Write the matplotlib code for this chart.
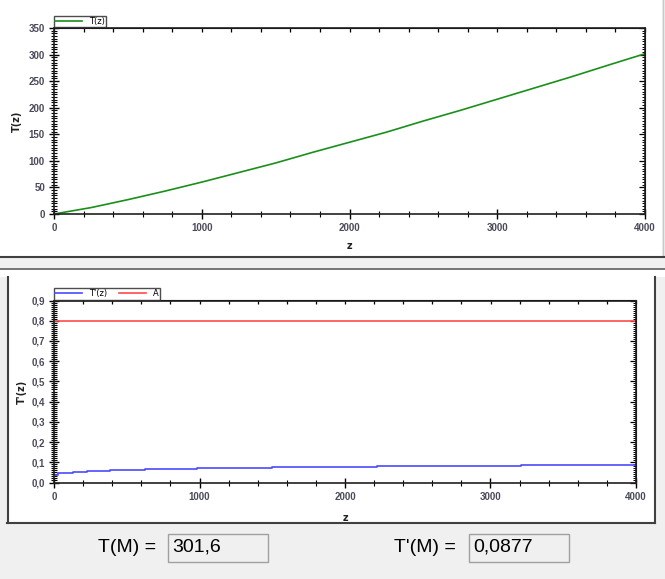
import matplotlib.pyplot as plt
import numpy as np
from matplotlib.patches import Rectangle
from matplotlib.lines import Line2D
from matplotlib.ticker import MultipleLocator

# T(z)
z_top = [0, 250, 500, 750, 1000, 1250, 1500, 1750, 2000, 2250, 2500,
         2750, 3000, 3250, 3500, 3750, 4000]
T_top = [0, 12, 27, 43, 60, 78, 96, 116, 135, 154, 175,
         195, 216, 237, 258, 280, 301.6]

# T'(z) step curve
z_steps = [0, 25, 133, 225, 385, 625, 980, 1500, 2218, 3207, 4000]
dT_steps = [0.035, 0.045, 0.05, 0.055, 0.06, 0.065, 0.07, 0.075, 0.08, 0.0877, 0.0877]
A_z = [0, 4000]
A_val = [0.8, 0.8]

xticks = [0, 1000, 2000, 3000, 4000]
yticks_top = [0, 50, 100, 150, 200, 250, 300, 350]
yticks_bot = [0.0, 0.1, 0.2, 0.3, 0.4, 0.5, 0.6, 0.7, 0.8, 0.9]
yticklabels_bot = ["0,0", "0,1", "0,2", "0,3", "0,4", "0,5", "0,6", "0,7", "0,8", "0,9"]

T_M = "301,6"
dT_M = "0,0877"

W, H = 665, 579
fig = plt.figure(figsize=(W / 100, H / 100), dpi=100)
fig.patch.set_facecolor("#f0f0f0")


def fx(px):
    return px / W


def fy(py):
    return 1 - py / H


def rect(x0, y0, x1, y1, fc, ec="none", lw=0):
    fig.patches.append(Rectangle((fx(x0), fy(y1)), fx(x1) - fx(x0), fy(y0) - fy(y1),
                                 transform=fig.transFigure, facecolor=fc,
                                 edgecolor=ec, linewidth=lw, zorder=-5))


def hline(y, x0, x1, c, lw=1.5):
    fig.lines.append(Line2D([fx(x0), fx(x1)], [fy(y), fy(y)], transform=fig.transFigure,
                            color=c, lw=lw, zorder=-4))


def vline(x, y0, y1, c, lw=1.5):
    fig.lines.append(Line2D([fx(x), fx(x)], [fy(y0), fy(y1)], transform=fig.transFigure,
                            color=c, lw=lw, zorder=-4))


# panel backgrounds
rect(0, 0, 662, 256, "white")
vline(662.5, 0, 256, "#c8c8c8", 1.0)
hline(256.5, 0, 665, "#404040", 1.5)
hline(269, 0, 665, "#606060", 1.2)
rect(0, 269.5, 665, 277, "white")
rect(7, 277, 655, 523, "white")
vline(7.5, 277, 523, "#404040", 1.5)
vline(654.5, 277, 523, "#404040", 1.5)
hline(523, 7, 655, "#404040", 1.5)

tick_col = "#4a4a5a"


def style_axes(ax, ymajor, yminor):
    ax.set_facecolor("white")
    for s in ax.spines.values():
        s.set_linewidth(1.2)
        s.set_color("#202020")
    ax.xaxis.set_minor_locator(MultipleLocator(200))
    ax.yaxis.set_minor_locator(MultipleLocator(yminor))
    ax.tick_params(which="major", direction="inout", length=7, width=1.0,
                   labelsize=7, labelcolor=tick_col, pad=3)
    ax.tick_params(which="minor", direction="inout", length=4, width=0.8)
    for lab in ax.get_xticklabels() + ax.get_yticklabels():
        lab.set_fontweight("bold")
        lab.set_family("Liberation Sans")
    sx = ax.secondary_xaxis("top")
    sx.xaxis.set_major_locator(MultipleLocator(200))
    sx.tick_params(direction="in", length=3, width=0.9, labeltop=False)
    sy = ax.secondary_yaxis("right")
    sy.yaxis.set_major_locator(MultipleLocator(ymajor))
    sy.yaxis.set_minor_locator(MultipleLocator(yminor))
    sy.tick_params(which="major", direction="in", length=4, width=0.9, labelright=False)
    sy.tick_params(which="minor", direction="in", length=2, width=0.7)


# upper chart
ax1 = fig.add_axes([fx(54), fy(214), fx(645) - fx(54), fy(28) - fy(214)])
ax1.plot(z_top, T_top, color="#1a8f1a", lw=1.2, label="T(z)")
ax1.set_xlim(0, 4000)
ax1.set_ylim(0, 350)
ax1.set_xticks(xticks)
ax1.set_yticks(yticks_top)
style_axes(ax1, 50, 5)
ax1.set_xlabel("z", fontsize=7, fontweight="bold", labelpad=6, color="#202020")
ax1.set_ylabel("T(z)", fontsize=7, fontweight="bold", labelpad=5, color="#202020")
ax1.legend(loc="lower left", bbox_to_anchor=(0.0, 1.005), fontsize=6, frameon=True,
           fancybox=False, edgecolor="#202020", handlelength=3.2, borderpad=0.15,
           handletextpad=0.8, borderaxespad=0)

# lower chart
ax2 = fig.add_axes([fx(54), fy(482.5), fx(636) - fx(54), fy(300.5) - fy(482.5)])
ax2.plot(z_steps, dT_steps, drawstyle="steps-post", color="#4a4aff", lw=1.2, label="T'(z)")
ax2.plot(A_z, A_val, color="#ff4a4a", lw=1.2, label="A")
ax2.set_xlim(0, 4000)
ax2.set_ylim(0, 0.9)
ax2.set_xticks(xticks)
ax2.set_yticks(yticks_bot, yticklabels_bot)
style_axes(ax2, 0.1, 0.01)
ax2.set_xlabel("z", fontsize=7, fontweight="bold", labelpad=8, color="#202020")
ax2.set_ylabel("T'(z)", fontsize=7, fontweight="bold", labelpad=3, color="#202020")
ax2.legend(loc="lower left", bbox_to_anchor=(0.0, 1.005), fontsize=6, frameon=True,
           fancybox=False, edgecolor="#202020", handlelength=3.2, borderpad=0.15,
           handletextpad=0.8, borderaxespad=0, ncol=2, columnspacing=1.5)

# result fields
fig.text(fx(98), fy(548), "T(M) =", fontsize=14, family="Liberation Sans", va="center")
rect(168, 534, 268, 562, "#f0f0f0", "#a0a0a0", 1.0)
fig.text(fx(172), fy(547), T_M, fontsize=14, family="Liberation Sans", va="center")
fig.text(fx(394), fy(548), "T'(M) =", fontsize=14, family="Liberation Sans", va="center")
rect(469, 534, 569, 562, "#f0f0f0", "#a0a0a0", 1.0)
fig.text(fx(473), fy(547), dT_M, fontsize=14, family="Liberation Sans", va="center")

fig.savefig("out.png", dpi=100, facecolor=fig.get_facecolor())
